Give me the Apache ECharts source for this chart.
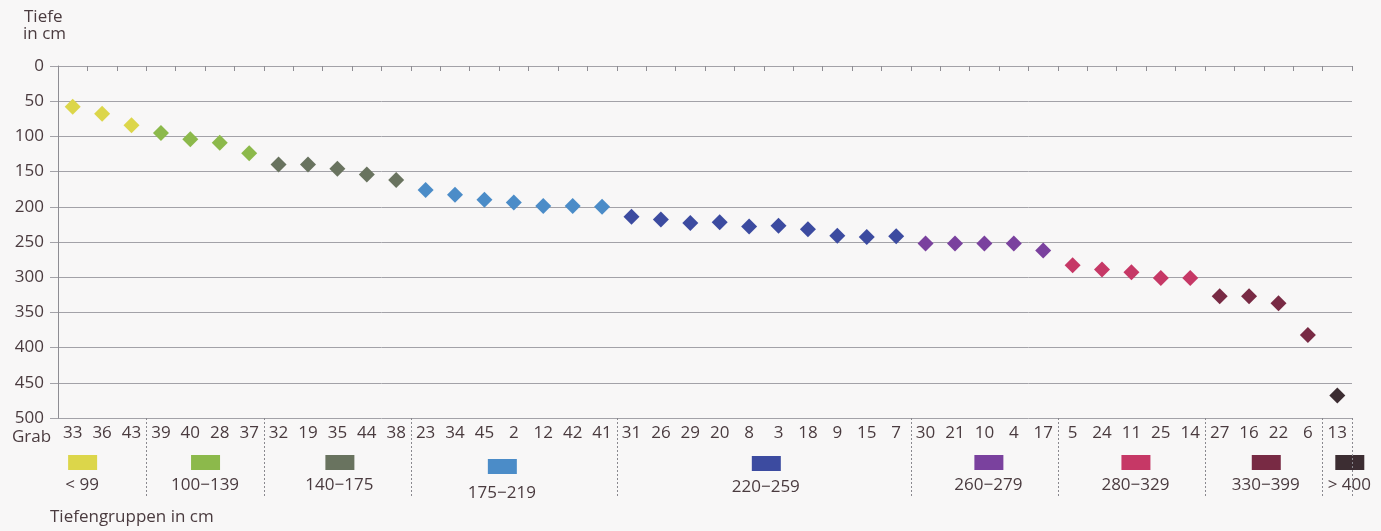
<!DOCTYPE html>
<html>
<head>
<meta charset="utf-8">
<script src="https://cdn.jsdelivr.net/npm/echarts@6/dist/echarts.min.js"></script>
<style>
  html, body { margin: 0; padding: 0; background: #f8f7f7; }
  #chart { width: 1381px; height: 531px; }
</style>
</head>
<body>
<div id="chart"></div>
<script>
// Grave numbers, ordered by depth
const graves = ['33','36','43','39','40','28','37','32','19','35','44','38','23','34','45','2','12','42','41',
                '31','26','29','20','8','3','18','9','15','7','30','21','10','4','17','5','24','11','25','14',
                '27','16','22','6','13'];
// Depth of each grave in cm
const depths = [58, 68, 84, 95, 104, 109, 124, 140, 140, 146, 154, 162, 176, 183, 190, 194, 199, 199, 200,
                214, 218, 223, 222, 228, 227, 232, 241, 243, 242, 252, 252, 252, 252, 262, 283, 289, 293, 301, 301,
                327, 327, 337, 382, 468];
// Depth groups: label, number of graves, colour
const groupLabels = ['< 99', '100\u2212139', '140\u2212175', '175\u2212219', '220\u2212259', '260\u2212279', '280\u2212329', '330\u2212399', '> 400'];
const groupSizes  = [3, 4, 5, 7, 10, 5, 5, 4, 1];
const groupColors = ['#dcd64a', '#8cb94b', '#69735f', '#4b8cc8', '#3c4ba0', '#7a419e', '#c63866', '#782a44', '#3c2d32'];
const depthTicks = [0, 50, 100, 150, 200, 250, 300, 350, 400, 450, 500];

const FONT = "'Open Sans', sans-serif";
const TEXT = '#4a3b3f';
const GRIDC = '#a3a2a8';

// first category index of each group
const groupStart = [];
{ let s = 0; groupSizes.forEach(n => { groupStart.push(s); s += n; }); }

const series = groupSizes.map((n, g) => {
  const data = [];
  for (let i = groupStart[g]; i < groupStart[g] + n; i++) data.push([i, depths[i]]);
  return {
    type: 'scatter', name: groupLabels[g], data: data,
    symbol: 'diamond', symbolSize: 16,
    itemStyle: { color: groupColors[g], opacity: 1 },
    xAxisIndex: 0, yAxisIndex: 0
  };
});

const chart = echarts.init(document.getElementById('chart'), null, { renderer: 'canvas' });
const option = {
  backgroundColor: '#f8f7f7',
  animation: false,
  grid: { left: 58, right: 29, top: 66, bottom: 113, containLabel: false },
  xAxis: [
    {
      type: 'category', data: graves, position: 'bottom', boundaryGap: true,
      axisLine: { show: true, lineStyle: { color: GRIDC, width: 1 } },
      axisTick: { show: true, length: 5, lineStyle: { color: '#8e8d93' } },
      axisLabel: { interval: 0, color: TEXT, fontFamily: FONT, fontSize: 17, margin: 7 },
      splitLine: { show: false }
    },
    {
      // dashed separators between the depth groups
      type: 'category', data: graves, position: 'bottom', boundaryGap: true,
      axisLine: { show: false },
      axisTick: {
        show: true, length: 79,
        interval: (idx) => groupStart.indexOf(idx) > 0,
        lineStyle: { color: '#8a898f', type: [2, 2], width: 1 }
      },
      axisLabel: { show: false },
      splitLine: { show: false }
    }
  ],
  yAxis: {
    type: 'value', inverse: true, min: 0, max: 500, interval: 50,
    axisLine: { show: true, lineStyle: { color: '#8e8d93' } },
    axisTick: { show: true, length: 8, lineStyle: { color: GRIDC } },
    axisLabel: {
      color: TEXT, fontFamily: FONT, fontSize: 17, margin: 14,
      formatter: (v) => depthTicks.indexOf(v) >= 0 ? String(v) : ''
    },
    splitLine: { show: true, lineStyle: { color: GRIDC, width: 1 } }
  },
  series: series
};
chart.setOption(option);

// group swatches and labels, centred under each group of categories
const swatchShift = [-20, 0, 2, -12, 2, 4, 4, 2, 12];
const labelDy = [0, 0, 0, 8, 2, 0, 0, 0, 0];
const graphics = [];
groupSizes.forEach((n, g) => {
  const x0 = chart.convertToPixel({ xAxisIndex: 0 }, groupStart[g]);
  const x1 = chart.convertToPixel({ xAxisIndex: 0 }, groupStart[g] + n - 1);
  const cx = (x0 + x1) / 2 + swatchShift[g];
  graphics.push({
    type: 'rect', shape: { x: cx - 14, y: 455 + labelDy[g] / 2, width: 29, height: 15 },
    style: { fill: groupColors[g] }, silent: true
  });
  graphics.push({
    type: 'text', x: cx, y: 485 + labelDy[g],
    style: { text: groupLabels[g], fill: TEXT, font: '17px ' + FONT, align: 'center', verticalAlign: 'middle' },
    silent: true
  });
});
graphics.push({ type: 'text', x: 24, y: 9, style: { text: 'Tiefe', fill: TEXT, font: '17px ' + FONT }, silent: true });
graphics.push({ type: 'text', x: 23, y: 26, style: { text: 'in cm', fill: TEXT, font: '17px ' + FONT }, silent: true });
graphics.push({ type: 'text', x: 12, y: 437, style: { text: 'Grab', fill: TEXT, font: '17px ' + FONT, verticalAlign: 'middle' }, silent: true });
graphics.push({ type: 'text', x: 50, y: 517, style: { text: 'Tiefengruppen in cm', fill: TEXT, font: '17px ' + FONT, verticalAlign: 'middle' }, silent: true });
chart.setOption({ graphic: graphics });
</script>
</body>
</html>
